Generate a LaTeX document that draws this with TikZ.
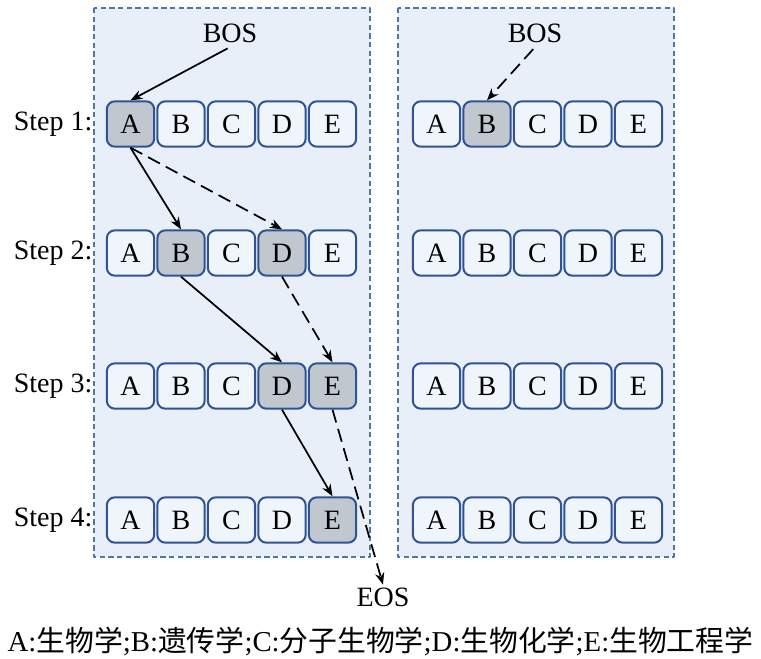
\documentclass[tikz,border=0pt]{standalone}
\usepackage{fontspec}
\setmainfont{Liberation Serif}
\newfontfamily\cjk{Noto Sans CJK SC}
\usetikzlibrary{arrows.meta}

\definecolor{panelfill}{RGB}{232,239,248}
\definecolor{panelline}{RGB}{74,120,170}
\definecolor{cellline}{RGB}{47,84,150}
\definecolor{cellfill}{RGB}{240,244,251}
\definecolor{pickfill}{RGB}{193,199,207}

\tikzset{
  cell/.style={draw=cellline,fill=cellfill,line width=1.5pt,rounded corners=6pt,
    minimum width=35.5pt,minimum height=34pt,inner sep=0pt},
  panel/.style={draw=panelline,fill=panelfill,line width=0.8pt,dash pattern=on 4pt off 2.5pt},
  link/.style={->,line width=1.3pt},
  dsh/.style={dash pattern=on 10pt off 5pt},
  % chosen tokens
  pk-L1A/.style={fill=pickfill},
  pk-L2B/.style={fill=pickfill},
  pk-L2D/.style={fill=pickfill},
  pk-L3D/.style={fill=pickfill},
  pk-L3E/.style={fill=pickfill},
  pk-L4E/.style={fill=pickfill},
  pk-R1B/.style={fill=pickfill},
}

\begin{document}
\begin{tikzpicture}[>={Stealth[length=9pt,width=7pt]},line join=round,x=0.75pt,y=-0.75pt,
  font=\fontsize{21}{24}\selectfont]
\useasboundingbox (0,0) rectangle (761,659);
\def\dx{50.5}
%
\draw[panel] (94,8) rectangle (370,557);
\draw[panel] (398,8) rectangle (674,557);
%
\foreach \r/\y in {1/124,2/253,3/386,4/520}{
  \node[anchor=east,inner sep=1pt] (s\r) at (94,\y) {Step \r:};
  \foreach \l [count=\i from 0] in {A,B,C,D,E}{
    \node[cell,pk-L\r\l/.try] (L\r\l) at (130.5+\dx*\i,\y) {\l};
    \node[cell,pk-R\r\l/.try] (R\r\l) at (436.5+\dx*\i,\y) {\l};
  }
}
%
\node (bosL) at (230,33) {BOS};
\node (bosR) at (535,33) {BOS};
\node[inner sep=2pt] (eos) at (383,597) {EOS};
%
\draw[link,shorten <=2pt] (bosL.south) -- (L1A.north);
\draw[link] (L1A.south) -- (L2B.north);
\draw[link,dsh] (L1A.south) -- (L2D.north);
\draw[link] (L2B.south) -- (L3D.north);
\draw[link,dsh] (L2D.south) -- (L3E.north);
\draw[link] (L3D.south) -- (L4E.north);
\draw[link,dsh] (L3E.south) -- (eos.north);
\draw[link,dsh,shorten <=2pt] (bosR.south) -- (R1B.north);
%
\node[inner sep=0pt,font=\fontsize{21.6}{26}\selectfont] (key) at (380.5,641)
  {A:{\cjk 生物学};B:{\cjk 遗传学};C:{\cjk 分子生物学};D:{\cjk 生物化学};E:{\cjk 生物工程学}};
\end{tikzpicture}
\end{document}
